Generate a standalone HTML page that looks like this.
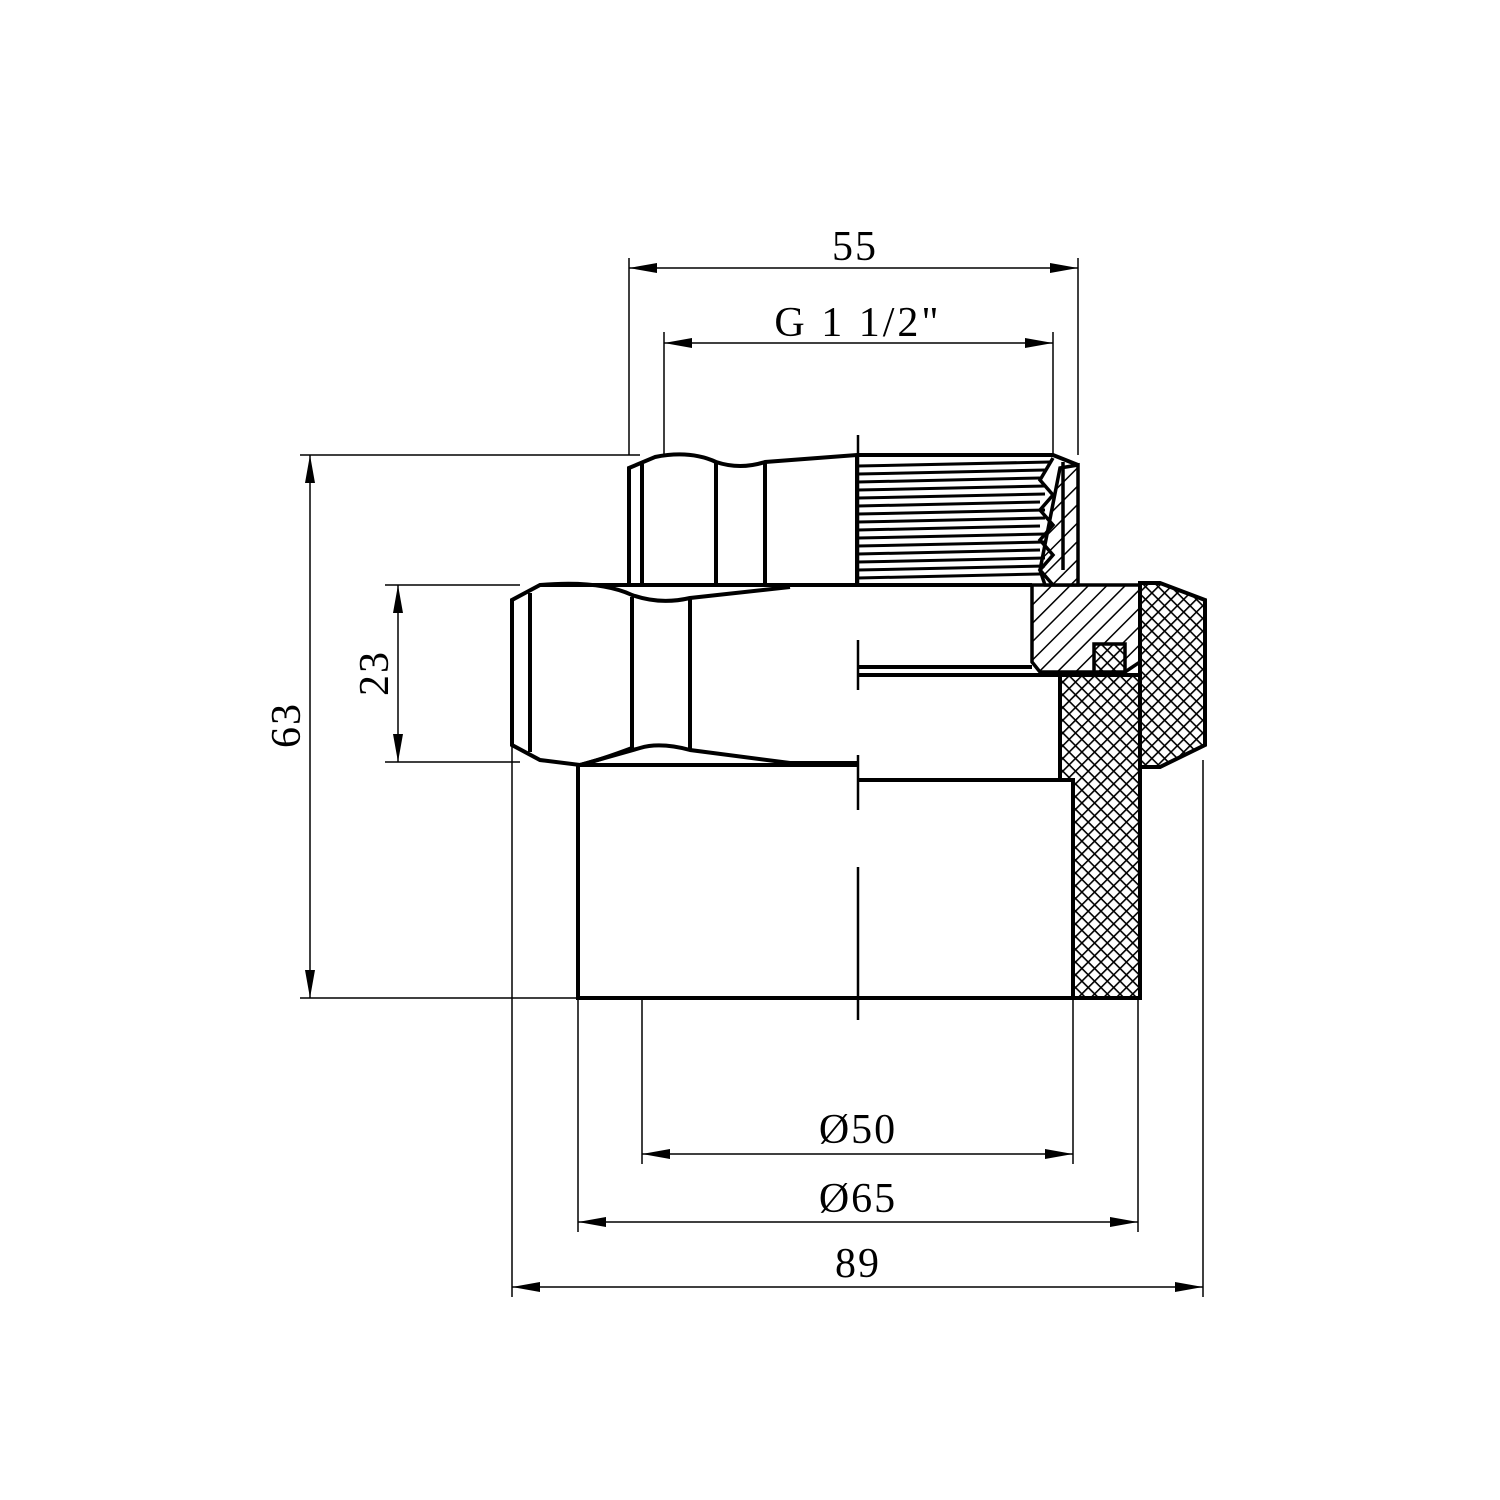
<!DOCTYPE html>
<html><head><style>html,body{margin:0;padding:0;background:#fff}svg{display:block}text{font-family:"Liberation Serif",serif;font-size:42px;fill:#000}</style></head>
<body>
<svg width="1500" height="1500" viewBox="0 0 1500 1500" xmlns="http://www.w3.org/2000/svg">
<defs>
<pattern id="h" width="13" height="13" patternUnits="userSpaceOnUse" patternTransform="rotate(45)">
<rect width="13" height="13" fill="#fff"/><line x1="0" y1="0" x2="0" y2="13" stroke="#000" stroke-width="3"/></pattern>
<pattern id="x" width="9" height="9" patternUnits="userSpaceOnUse" patternTransform="rotate(45)">
<rect width="9" height="9" fill="#fff"/><line x1="0" y1="0" x2="0" y2="9" stroke="#000" stroke-width="3.2"/><line x1="0" y1="0" x2="9" y2="0" stroke="#000" stroke-width="3.2"/></pattern>
</defs>
<g stroke="#000" fill="none">
<g stroke-width="1.5">
<line x1="629" y1="258" x2="629" y2="455"/><line x1="1078" y1="258" x2="1078" y2="455"/>
<line x1="664" y1="332" x2="664" y2="455"/><line x1="1053" y1="332" x2="1053" y2="455"/>
<line x1="300" y1="455" x2="640" y2="455"/><line x1="300" y1="998" x2="578" y2="998"/>
<line x1="385" y1="585" x2="520" y2="585"/><line x1="385" y1="762" x2="520" y2="762"/>
<line x1="512" y1="745" x2="512" y2="1297"/><line x1="578" y1="1000" x2="578" y2="1232"/>
<line x1="642" y1="1000" x2="642" y2="1164"/><line x1="1073" y1="1000" x2="1073" y2="1164"/>
<line x1="1138" y1="1000" x2="1138" y2="1232"/><line x1="1203" y1="760" x2="1203" y2="1297"/>
<line x1="629" y1="268" x2="1078" y2="268"/><line x1="664" y1="343" x2="1053" y2="343"/>
<line x1="310" y1="455" x2="310" y2="998"/><line x1="398" y1="585" x2="398" y2="762"/>
<line x1="642" y1="1154" x2="1073" y2="1154"/><line x1="578" y1="1222" x2="1138" y2="1222"/>
<line x1="512" y1="1287" x2="1203" y2="1287"/>
</g>
<g fill="#000" stroke="none">
<path d="M629 268l28-5v10z M1078 268l-28-5v10z M664 343l28-5v10z M1053 343l-28-5v10z"/>
<path d="M310 455l-5 28h10z M310 998l-5-28h10z M398 585l-5 28h10z M398 762l-5-28h10z"/>
<path d="M642 1154l28-5v10z M1073 1154l-28-5v10z M578 1222l28-5v10z M1138 1222l-28-5v10z M512 1287l28-5v10z M1203 1287l-28-5v10z"/>
</g>
<path d="M1032 585 H1140 V662 L1125 672 H1040 L1032 662Z" fill="url(#h)" stroke-width="3.5"/>
<path d="M1060 468 L1078 465 V585 H1045 L1040 570Z" fill="url(#h)" stroke-width="3.5"/>
<path d="M1060 675 H1140 V998 H1073 V780 H1060Z" fill="url(#x)" stroke-width="4"/>
<path d="M1140 583 H1160 L1205 600 V745 L1160 767 H1140Z" fill="url(#x)" stroke-width="4"/>
<rect x="1094" y="644" width="31" height="28" fill="url(#x)" stroke-width="3.5"/>
<line x1="1140" y1="585" x2="1140" y2="700" stroke-width="3.5"/>
<g stroke-width="3">
<line x1="858" y1="466" x2="1050" y2="462"/><line x1="858" y1="474" x2="1045" y2="470"/>
<line x1="858" y1="482" x2="1040" y2="478"/><line x1="858" y1="490" x2="1045" y2="486"/>
<line x1="858" y1="498" x2="1045" y2="494"/><line x1="858" y1="506" x2="1040" y2="502"/>
<line x1="858" y1="514" x2="1045" y2="510"/><line x1="858" y1="522" x2="1045" y2="518"/>
<line x1="858" y1="530" x2="1040" y2="526"/><line x1="858" y1="538" x2="1045" y2="534"/>
<line x1="858" y1="546" x2="1045" y2="542"/><line x1="858" y1="554" x2="1040" y2="550"/>
<line x1="858" y1="562" x2="1045" y2="558"/><line x1="858" y1="570" x2="1045" y2="566"/>
<line x1="858" y1="578" x2="1040" y2="574"/>
<path d="M1053 458 L1040 480 L1053 495 L1040 510 L1053 525 L1040 540 L1053 555 L1040 570 L1053 585" stroke-width="3.5"/>
<line x1="1063" y1="462" x2="1063" y2="570" stroke-width="3.5"/>
</g>
<g stroke-width="4">
<path d="M629 585 V468 L655 457 Q690 450 716 462 Q740 470 765 462 L857 455 H1053 L1078 465"/>
<line x1="642" y1="464" x2="642" y2="585"/>
<line x1="716" y1="462" x2="716" y2="585"/><line x1="765" y1="462" x2="765" y2="585"/>
<line x1="857" y1="455" x2="857" y2="585"/>
<path d="M1032 585 H540 L512 600 V745 L540 760 L580 765 L640 748 Q660 742 690 750 L790 763 H857"/>
<path d="M540 585 Q600 580 632 595 Q660 605 690 598 L790 587"/>
<path d="M580 765 Q600 760 632 748"/>
<line x1="530" y1="593" x2="530" y2="752"/>
<line x1="632" y1="597" x2="632" y2="748"/><line x1="690" y1="598" x2="690" y2="750"/>
<line x1="857" y1="667" x2="1032" y2="667"/><line x1="857" y1="675" x2="1060" y2="675"/>
<line x1="857" y1="765" x2="578" y2="765"/>
<line x1="857" y1="780" x2="1060" y2="780"/>
<path d="M578 765 V998 H1140"/>
</g>
<g stroke-width="2.5">
<line x1="858" y1="435" x2="858" y2="585"/><line x1="858" y1="640" x2="858" y2="690"/>
<line x1="858" y1="755" x2="858" y2="810"/><line x1="858" y1="867" x2="858" y2="1020"/>
</g>
</g>
<text x="855" y="260" text-anchor="middle" letter-spacing="2">55</text>
<text x="858" y="336" text-anchor="middle" letter-spacing="3">G 1 1/2"</text>
<text x="858" y="1143" text-anchor="middle" letter-spacing="2">Ø50</text>
<text x="858" y="1212" text-anchor="middle" letter-spacing="2">Ø65</text>
<text x="858" y="1277" text-anchor="middle" letter-spacing="2">89</text>
<text transform="translate(300,725) rotate(-90)" text-anchor="middle" letter-spacing="2">63</text>
<text transform="translate(388,673) rotate(-90)" text-anchor="middle" letter-spacing="2">23</text>
</svg>
</body></html>
